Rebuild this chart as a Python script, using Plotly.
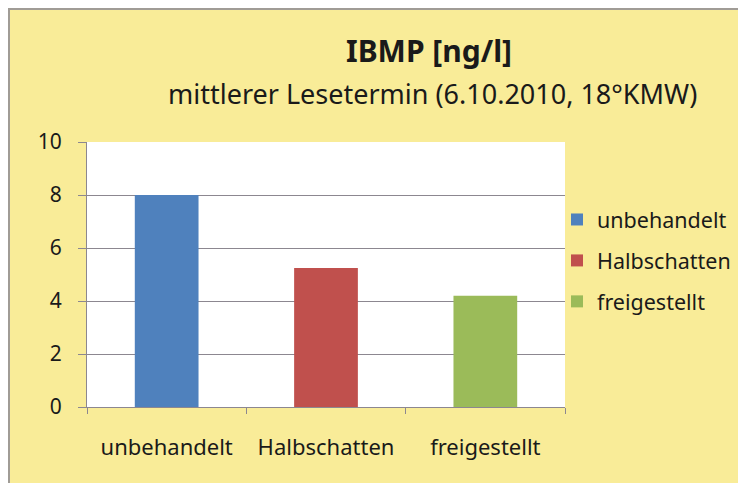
import plotly.graph_objects as go

categories = ["unbehandelt", "Halbschatten", "freigestellt"]
values = [8.0, 5.25, 4.2]
colors = ["#4F81BD", "#C0504D", "#9BBB59"]
y_ticks = [0, 2, 4, 6, 8, 10]
title_text = "IBMP [ng/l]"
subtitle_text = "mittlerer Lesetermin (6.10.2010, 18°KMW)"

W, H = 746, 483
OFF = 8  # page body margin in the browser
# plot area in screen pixels
SL, SR, ST, SB = 87, 565, 142, 407
L, T = SL - OFF, ST - OFF
R, B = W - (SR - OFF), H - (SB - OFF)
PW, PH = W - L - R, H - T - B


def X(sx):
    return (sx - OFF - L) / PW


def Y(sy):
    return (H - B - (sy - OFF)) / PH


FONT = "Noto Sans"
YELLOW = "#F9EC98"
GRID = "#8C8790"
BORDER = "#A09C96"

fig = go.Figure()
for i, (c, v, col) in enumerate(zip(categories, values, colors)):
    fig.add_trace(go.Bar(x=[c], y=[v], name=c, marker=dict(color=col, line=dict(width=0)),
                         legendgroup=f"g{i}"))

fig.update_layout(
    width=W, height=H,
    margin=dict(l=L, r=R, t=T, b=B, pad=0),
    paper_bgcolor=YELLOW, plot_bgcolor="white",
    barmode="overlay", bargap=0.6,
    font=dict(family=FONT, size=21, color="#1a1a1a"),
    showlegend=True,
    legend=dict(x=X(557), y=Y(199), xanchor="left", yanchor="top", bgcolor="rgba(0,0,0,0)",
                tracegroupgap=10, traceorder="grouped", font=dict(size=21.5, family=FONT)),
    xaxis=dict(categoryorder="array", categoryarray=categories, showline=True, linecolor=GRID,
               linewidth=1, ticks="outside", tickson="boundaries", ticklen=6, tickcolor=GRID,
               showgrid=False, ticklabelstandoff=21, tickfont=dict(size=22)),
    yaxis=dict(range=[0, 10], tickvals=y_ticks, showline=True, linecolor=GRID, linewidth=1,
               ticks="outside", ticklen=8, tickcolor=GRID, showgrid=True, gridcolor=GRID,
               gridwidth=1, zeroline=False, ticklabelstandoff=12, tickfont=dict(size=21)),
    annotations=[
        dict(text=f"<b>{title_text}</b>", x=X(429), y=Y(50), xref="paper", yref="paper",
             xanchor="center", yanchor="middle", showarrow=False, font=dict(size=30, family=FONT)),
        dict(text=subtitle_text, x=X(432), y=Y(93), xref="paper", yref="paper",
             xanchor="center", yanchor="middle", showarrow=False, font=dict(size=27, family=FONT)),
    ],
    shapes=[
        dict(type="line", xref="paper", yref="paper", x0=X(9), x1=X(9), y0=Y(8), y1=Y(500),
             line=dict(color=BORDER, width=2), layer="above"),
        dict(type="line", xref="paper", yref="paper", x0=X(8), x1=X(760), y0=Y(9), y1=Y(9),
             line=dict(color=BORDER, width=2), layer="above"),
    ],
)

fig.write_html("out.html")
